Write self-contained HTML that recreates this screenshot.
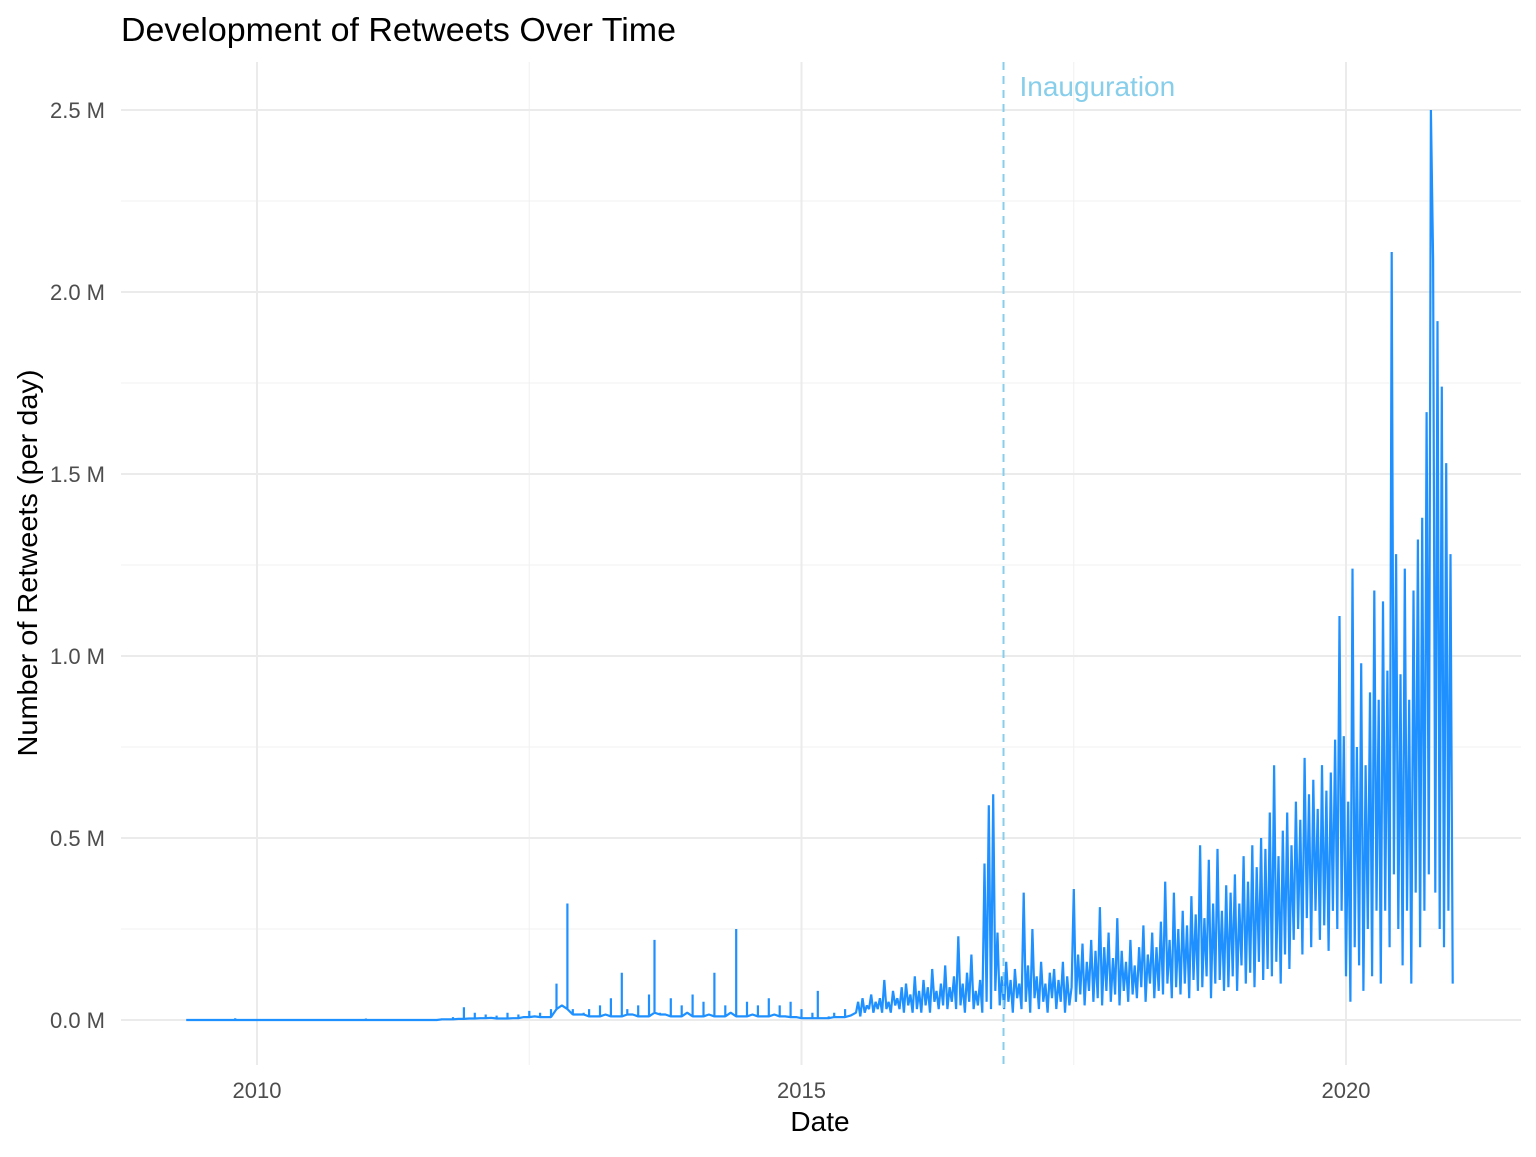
<!DOCTYPE html>
<html><head><meta charset="utf-8"><style>
body{margin:0;background:#fff;}
svg text{font-family:"Liberation Sans",Arial,sans-serif;}
</style></head><body>
<svg id="chart" width="1536" height="1152" xmlns="http://www.w3.org/2000/svg">
<rect width="1536" height="1152" fill="#fff"/>
<g id="grid"></g>
<g id="marks"></g>
<g id="axes"></g>
<text x="121" y="41" font-size="33" fill="#000" textLength="555" lengthAdjust="spacingAndGlyphs">Development of Retweets Over Time</text>
<text x="820" y="1131" font-size="28" text-anchor="middle" fill="#000">Date</text>
<text transform="translate(37,563) rotate(-90)" font-size="28" text-anchor="middle" fill="#000" textLength="387" lengthAdjust="spacingAndGlyphs">Number of Retweets (per day)</text>
</svg>
<script>
const xTicks=[2010,2015,2020];
const xMinor=[2012.5,2017.5];
const yTicks=[0,0.5,1,1.5,2,2.5];
const yTickLabels=["0.0 M","0.5 M","1.0 M","1.5 M","2.0 M","2.5 M"];
const yMinor=[0.25,0.75,1.25,1.75,2.25];
const inaugurationDate=2016.855;
const inaugurationLabel="Inauguration";
const earlyStart=2009.35, earlyStep=0.05;
const earlyValues=[0,0,0,0,0,0,0,0,0,0.005,0,0,0,0,0,0,0,0,0,0,0,0,0,0,0,0,0,0,0,0,0,0,0,0.004,0,0,0,0,0,0,
0,0,0,0,0,0,0.002,0.005,0.002,0.008,0.003,0.035,0.004,0.02,0.005,0.015,0.006,0.012,0.004,0.02,
0.005,0.015,0.008,0.025,0.01,0.02,0.008,0.03,0.1,0.04,0.32,0.03,0.015,0.02,0.03,0.01,0.04,0.015,0.06,0.01,
0.13,0.03,0.015,0.04,0.01,0.07,0.22,0.02,0.015,0.06,0.01,0.04,0.02,0.07,0.01,0.05,0.015,0.13,0.01,0.04,0.02,0.25,0.01,0.05,0.015,0.04,0.01,0.06,0.015,0.04,0.01,0.05,0.008,0.03,0.005,0.02,0.08,0.005,0.01,0.02,
0.008,0.03,0.012];
const lateStart=2015.5, lateStep=0.02;
const lateValues=[0.02,0.05,0.01,0.06,0.02,0.04,0.03,0.07,0.02,0.05,
0.03,0.06,0.02,0.11,0.03,0.05,0.02,0.08,0.04,0.06,
0.03,0.09,0.02,0.1,0.04,0.07,0.02,0.12,0.03,0.08,
0.02,0.11,0.04,0.09,0.02,0.14,0.05,0.08,0.03,0.1,
0.04,0.15,0.03,0.09,0.05,0.12,0.03,0.23,0.04,0.1,
0.02,0.13,0.05,0.18,0.03,0.08,0.04,0.11,0.02,0.43,
0.05,0.59,0.03,0.62,0.08,0.24,0.04,0.12,0.03,0.16,
0.05,0.11,0.02,0.14,0.06,0.1,0.03,0.35,0.05,0.15,
0.02,0.25,0.06,0.12,0.03,0.16,0.05,0.1,0.02,0.13,
0.06,0.14,0.03,0.11,0.05,0.16,0.02,0.12,0.04,0.09,
0.36,0.05,0.18,0.07,0.21,0.04,0.16,0.08,0.22,0.05,
0.19,0.06,0.31,0.04,0.2,0.08,0.24,0.05,0.17,0.07,
0.28,0.04,0.19,0.08,0.16,0.05,0.22,0.07,0.15,0.06,
0.2,0.09,0.26,0.05,0.18,0.1,0.24,0.06,0.2,0.08,
0.27,0.07,0.38,0.1,0.22,0.06,0.35,0.09,0.25,0.07,
0.3,0.1,0.26,0.06,0.34,0.11,0.29,0.08,0.48,0.09,
0.28,0.12,0.44,0.06,0.32,0.1,0.47,0.11,0.3,0.08,
0.37,0.09,0.35,0.12,0.4,0.08,0.32,0.15,0.45,0.1,
0.38,0.13,0.48,0.09,0.42,0.16,0.5,0.11,0.47,0.14,
0.57,0.12,0.7,0.16,0.45,0.1,0.52,0.18,0.57,0.14,
0.48,0.22,0.6,0.25,0.55,0.18,0.72,0.28,0.62,0.2,
0.66,0.3,0.58,0.22,0.7,0.26,0.63,0.19,0.68,0.3,
0.77,0.25,1.11,0.3,0.78,0.12,0.6,0.05,1.24,0.2,
0.75,0.15,0.98,0.08,0.7,0.25,0.9,0.12,1.18,0.3,
0.88,0.1,1.15,0.3,0.96,0.2,2.11,0.4,1.28,0.25,
0.95,0.15,1.24,0.3,0.88,0.1,1.18,0.35,1.32,0.2,
1.38,0.3,1.67,0.4,2.5,2.09,0.35,1.92,0.25,1.74,
0.2,1.53,0.3,1.28,0.1];

const NS="http://www.w3.org/2000/svg";
const PL=121,PR=1521,PT=62,PB=1065;
function xs(d){return 257+(d-2010)*108.9;}
function ys(v){return 1020-v*364;}
function mk(tag,attrs,parent){const e=document.createElementNS(NS,tag);for(const k in attrs)e.setAttribute(k,attrs[k]);parent.appendChild(e);return e;}
const grid=document.getElementById('grid'),axes=document.getElementById('axes'),marks=document.getElementById('marks');
yMinor.forEach(v=>{const l=mk('line',{x1:PL,x2:PR,y1:ys(v),y2:ys(v),stroke:'#f0f0f0','stroke-width':1},grid);

});
xMinor.forEach(d=>{const l=mk('line',{x1:xs(d),x2:xs(d),y1:PT,y2:PB,stroke:'#f0f0f0','stroke-width':1},grid);

});
yTicks.forEach((v,i)=>{const l=mk('line',{x1:PL,x2:PR,y1:ys(v),y2:ys(v),stroke:'#ebebeb','stroke-width':2},grid);


const t=mk('text',{x:105,y:ys(v)+8,'font-size':22,fill:'#4d4d4d','text-anchor':'end'},axes);t.textContent=yTickLabels[i];

});
xTicks.forEach(d=>{const l=mk('line',{x1:xs(d),x2:xs(d),y1:PT,y2:PB,stroke:'#ebebeb','stroke-width':2},grid);


const t=mk('text',{x:xs(d),y:1098,'font-size':22,fill:'#4d4d4d','text-anchor':'middle'},axes);t.textContent=String(d);

});
let d='';
earlyValues.forEach((v,i)=>{
  const a=i>0?earlyValues[i-1]:v, b=i<earlyValues.length-1?earlyValues[i+1]:v;
  const lo=Math.min(a,v,b);
  const x=xs(earlyStart+i*earlyStep).toFixed(1);
  d+=(i?'L':'M')+x+','+ys(lo).toFixed(1)+'L'+x+','+ys(v).toFixed(1)+'L'+x+','+ys(lo).toFixed(1);
});
lateValues.forEach((v,i)=>{
  d+='L'+xs(lateStart+i*lateStep).toFixed(1)+','+ys(v).toFixed(1);
});
const p=mk('path',{d:d,fill:'none',stroke:'#1E90FF','stroke-width':2.2,'stroke-linejoin':'bevel'},marks);


const il=mk('line',{x1:xs(inaugurationDate),x2:xs(inaugurationDate),y1:PT,y2:PB,stroke:'#87CEEB','stroke-width':2,'stroke-dasharray':'8,6'},marks);


const it=mk('text',{x:xs(inaugurationDate)+16,y:96,'font-size':28,fill:'#87CEEB'},marks);it.textContent=inaugurationLabel;


</script>
</body></html>
